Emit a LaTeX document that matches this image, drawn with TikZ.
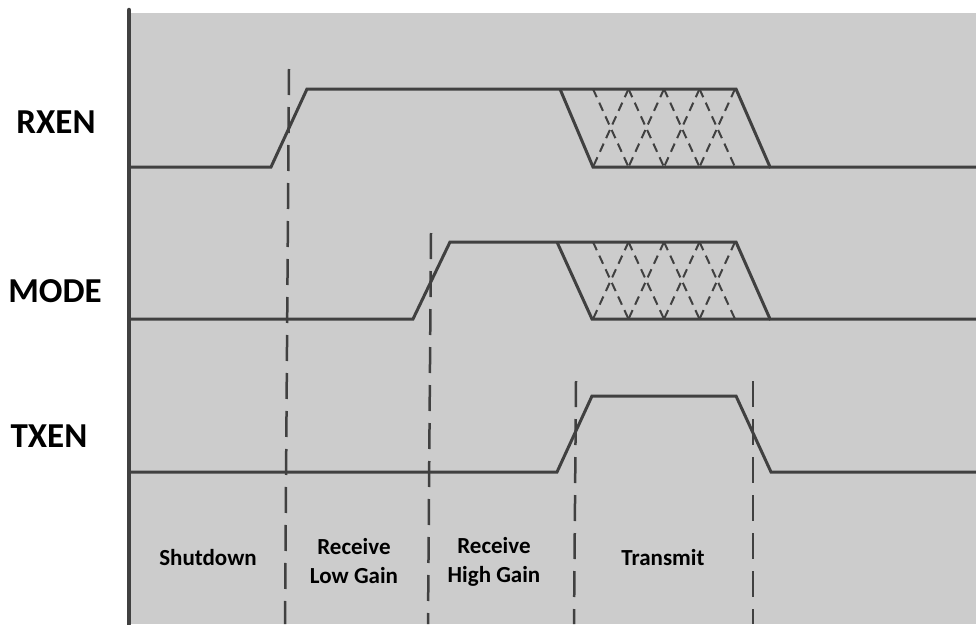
\documentclass[tikz,border=0pt]{standalone}
\usepackage{fontspec}
\setmainfont{Carlito}
\usetikzlibrary{positioning}
\definecolor{bggray}{RGB}{204,204,204}
\definecolor{wavegray}{RGB}{64,64,64}
\tikzset{
wave/.style={draw=wavegray,line width=3pt,line join=miter}
, hatch/.style={draw=wavegray,line width=2pt,dash pattern=on 9pt off 6pt}
, marker/.style={draw=wavegray,line width=2.5pt,dash pattern=on 26pt off 12pt}
, signame/.style={font=\fontsize{35}{42}\selectfont\bfseries}
, statename/.style={font=\fontsize{23}{29}\selectfont\bfseries,align=center}}
\def\rxhi{89}
\def\rxlo{167}
\def\mdhi{242}
\def\mdlo{319}
\def\txhi{396}
\def\txlo{472}

\begin{document}
\begin{tikzpicture}[x=1pt,y=-1pt]
\useasboundingbox (0,0) rectangle (976,624);
\fill[bggray] (128,13) rectangle (976,624);
\draw[wavegray,line width=4.5pt,line cap=round] (129,10) -- (129,624);
% signal names
\node[signame] (rxen) at (56,122) {RXEN};
\node[signame] (mode) at (55,291) {MODE};
\node[signame] (txen) at (49,436) {TXEN};
% waveforms
\draw[wave] (130,\rxlo) -- (271,\rxlo) -- (307,\rxhi) -- (736,\rxhi) -- (770,\rxlo) -- (976,\rxlo);
\draw[wave] (560,\rxhi) -- (593,\rxlo) -- (770,\rxlo);
\draw[wave] (130,\mdlo) -- (413,\mdlo) -- (450,\mdhi) -- (736,\mdhi) -- (770,\mdlo) -- (976,\mdlo);
\draw[wave] (557,\mdhi) -- (592,\mdlo) -- (770,\mdlo);
\draw[wave] (130,\txlo) -- (557,\txlo) -- (592,\txhi) -- (736,\txhi) -- (771,\txlo) -- (976,\txlo);
% don't care regions
\foreach \hi/\lo in {\rxhi/\rxlo,\mdhi/\mdlo}
  \foreach \k in {0,...,3}{
    \draw[hatch] ({593+35.5*\k},\hi) -- ({628.5+35.5*\k},\lo);
    \draw[hatch] ({628.5+35.5*\k},\hi) -- ({593+35.5*\k},\lo);
  }
% state boundaries
\draw[marker] (289,69) -- (285,624);
\draw[marker] (431,233) -- (428,624);
\draw[marker] (576,381) -- (574,624);
\draw[marker] (753,381) -- (753,624);
% states
\node[statename] (shut) at (208,558) {Shutdown};
\node[statename] (rxlow) at (354,561) {Receive\\Low Gain};
\node[statename] (rxhigh) at (494,562) {Receive\\High Gain};
\node[statename] (tx) at (663,558) {Transmit};
\end{tikzpicture}
\end{document}
